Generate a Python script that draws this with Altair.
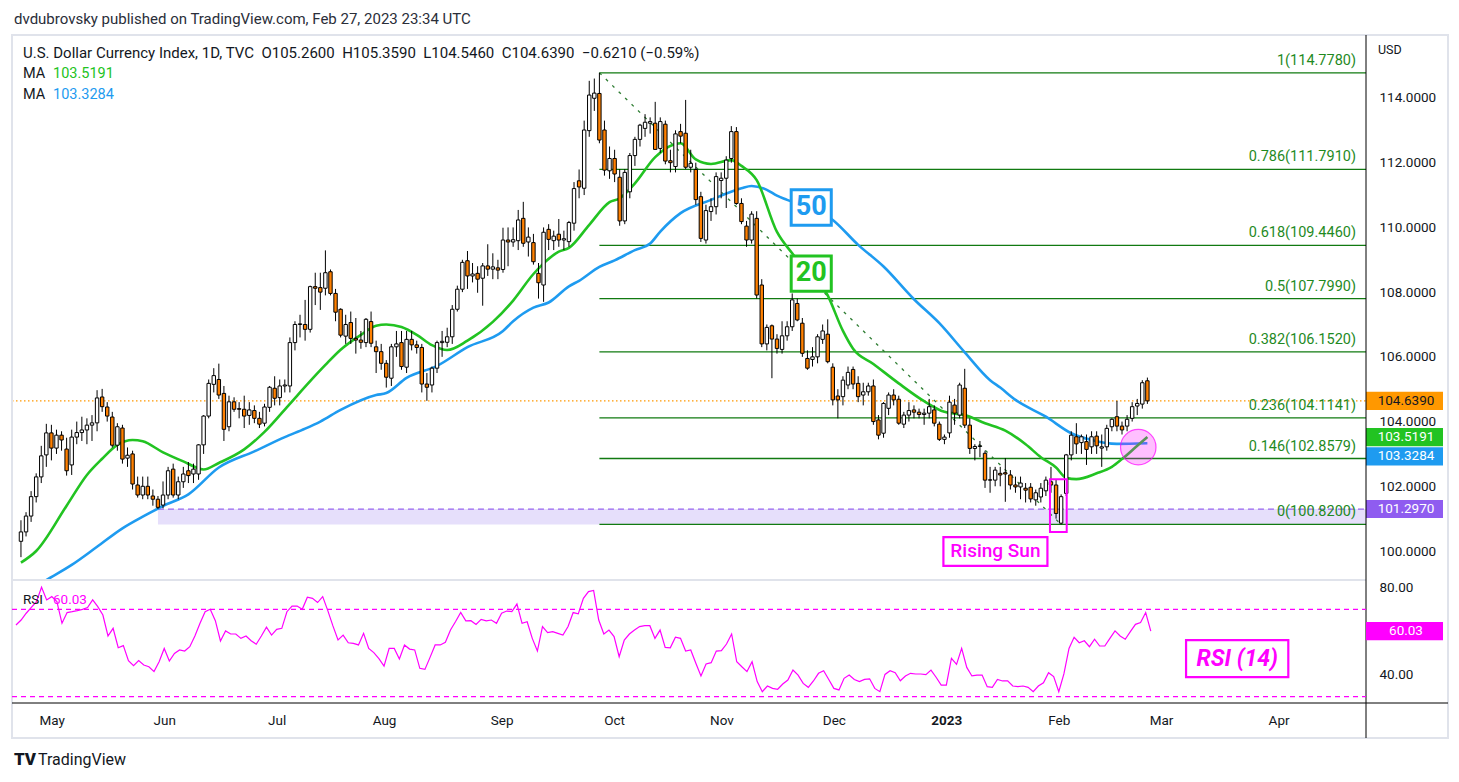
import json
import altair as alt
import pandas as pd

# ---------------- data ----------------
OPEN = [100.30, 100.59, 101.08, 101.68, 102.29, 102.97, 103.65, 103.18, 103.58, 103.15,
        102.66, 103.52, 103.66, 103.74, 103.89, 103.96, 104.76, 104.45, 104.14, 103.27,
        103.80, 102.87, 103.00, 102.04, 101.73, 102.00, 101.70, 101.60, 101.42, 101.73,
        102.53, 101.73, 102.14, 102.48, 102.38, 102.38, 103.28, 104.17, 105.15, 105.30,
        104.87, 103.84, 104.61, 104.40, 104.38, 104.19, 104.34, 104.10, 103.95, 104.44,
        105.03, 104.74, 105.10, 105.10, 106.44, 107.00, 107.00, 106.85, 108.17, 108.14,
        108.12, 108.63, 107.96, 107.47, 106.64, 107.06, 106.57, 106.52, 106.44, 107.09,
        106.31, 106.16, 105.80, 105.34, 106.31, 106.44, 105.68, 106.54, 106.37, 106.29,
        105.16, 105.13, 105.65, 106.44, 106.45, 106.62, 107.47, 108.09, 108.97, 108.50,
        108.58, 108.43, 108.81, 108.71, 108.75, 108.70, 109.61, 109.55, 109.59, 110.28,
        109.55, 109.53, 108.58, 108.22, 109.94, 109.59, 109.79, 109.61, 109.56, 110.13,
        111.44, 111.21, 112.99, 113.99, 114.14, 113.01, 111.75, 112.13, 111.55, 110.20,
        111.10, 112.22, 112.72, 113.06, 113.22, 113.22, 112.44, 113.19, 112.06, 111.88,
        112.96, 112.91, 111.86, 111.79, 110.95, 109.61, 110.49, 110.64, 111.45, 111.52,
        112.13, 112.96, 110.74, 110.04, 109.61, 110.28, 108.22, 106.40, 106.96, 106.55,
        106.23, 106.65, 106.93, 107.65, 107.04, 105.95, 105.92, 106.00, 106.54, 106.70,
        105.68, 104.79, 104.77, 105.13, 105.61, 105.18, 104.82, 104.92, 105.10, 104.05,
        103.64, 104.41, 104.82, 104.69, 103.92, 104.20, 104.36, 104.29, 104.22, 104.26,
        104.36, 103.92, 103.45, 103.65, 104.51, 104.20, 105.03, 103.89, 103.17, 103.23,
        103.02, 102.19, 102.19, 102.40, 102.42, 102.35, 102.04, 101.98, 101.94, 101.97,
        101.58, 101.67, 101.86, 102.14, 102.04, 100.86, 101.78, 102.97, 103.53, 103.35,
        103.38, 103.22, 103.55, 103.18, 103.22, 103.84, 104.15, 103.86, 103.86, 104.10,
        104.48, 104.54, 105.26]
HIGH = [100.95, 101.20, 101.85, 102.40, 103.25, 103.93, 103.90, 103.75, 103.70, 103.50,
        103.75, 104.00, 104.15, 104.10, 104.20, 104.97, 105.01, 104.60, 104.30, 103.95,
        103.90, 103.20, 103.10, 102.30, 102.30, 102.30, 101.90, 101.70, 102.15, 102.60,
        102.70, 102.30, 102.60, 102.75, 102.70, 103.30, 104.20, 105.30, 105.65, 105.79,
        105.10, 104.80, 104.75, 104.60, 104.80, 104.60, 104.50, 104.30, 104.55, 105.10,
        105.40, 105.30, 105.30, 106.60, 107.10, 107.30, 107.76, 108.20, 108.60, 108.60,
        109.29, 108.70, 108.10, 107.50, 107.30, 107.40, 107.20, 106.80, 107.20, 107.40,
        106.50, 106.40, 105.90, 106.40, 106.80, 106.80, 106.80, 106.80, 106.50, 106.40,
        105.50, 105.70, 106.50, 106.80, 106.90, 107.60, 108.20, 109.00, 109.27, 108.90,
        108.80, 108.90, 109.48, 109.20, 109.00, 109.99, 110.00, 110.00, 110.54, 110.79,
        110.00, 109.80, 108.90, 110.00, 110.10, 109.90, 110.26, 109.90, 110.20, 111.40,
        111.79, 113.30, 114.53, 114.60, 114.778, 113.30, 112.50, 112.40, 111.80, 111.80,
        112.30, 112.80, 113.20, 113.50, 113.40, 113.88, 113.40, 113.30, 112.40, 113.00,
        113.20, 113.94, 112.40, 112.00, 111.10, 110.70, 110.90, 111.70, 111.70, 112.20,
        113.13, 113.10, 110.90, 110.20, 110.50, 110.50, 108.40, 107.00, 107.00, 106.70,
        107.10, 107.10, 107.96, 107.80, 107.20, 106.20, 106.30, 106.70, 107.00, 107.16,
        105.80, 105.00, 105.40, 105.70, 105.70, 105.40, 105.20, 105.20, 105.30, 104.20,
        104.60, 104.90, 105.00, 104.80, 104.30, 104.60, 104.50, 104.40, 104.40, 104.70,
        104.50, 104.00, 103.60, 104.80, 104.70, 105.20, 105.63, 104.10, 103.30, 103.40,
        103.10, 102.60, 102.60, 102.60, 102.87, 102.50, 102.30, 102.30, 102.10, 102.10,
        101.90, 102.10, 102.30, 102.60, 102.20, 101.75, 103.00, 103.70, 103.95, 103.60,
        103.60, 103.70, 103.70, 103.60, 103.90, 104.10, 104.64, 104.00, 104.20, 104.60,
        104.70, 105.28, 105.359]
LOW = [99.81, 100.45, 100.90, 101.50, 102.10, 102.60, 102.80, 103.00, 103.10, 102.33,
       102.35, 103.30, 103.40, 103.30, 103.40, 103.70, 104.30, 104.00, 103.20, 103.10,
       102.70, 102.60, 101.90, 101.65, 101.60, 101.60, 101.40, 101.297, 101.32, 101.60,
       101.65, 101.60, 101.95, 102.10, 102.10, 102.20, 103.00, 104.10, 104.90, 104.70,
       103.40, 103.70, 104.30, 104.10, 103.80, 103.90, 103.95, 103.80, 103.85, 104.30,
       104.50, 104.50, 104.90, 104.90, 106.20, 106.60, 106.50, 106.75, 107.60, 107.45,
       107.90, 107.90, 107.10, 106.60, 106.40, 106.40, 106.10, 106.25, 106.30, 106.30,
       105.50, 105.60, 105.05, 105.10, 106.00, 105.60, 105.50, 106.20, 106.10, 104.90,
       104.64, 104.90, 105.50, 106.00, 106.30, 106.40, 107.40, 108.00, 108.10, 108.30,
       107.98, 107.58, 108.50, 108.40, 108.40, 108.60, 108.80, 109.40, 109.30, 109.40,
       109.10, 108.85, 107.80, 107.70, 109.30, 109.30, 109.40, 109.30, 109.40, 109.90,
       110.90, 111.00, 112.80, 113.60, 112.60, 111.60, 111.50, 111.40, 110.05, 110.10,
       110.90, 111.90, 112.50, 112.80, 112.90, 112.40, 112.30, 111.95, 111.70, 111.70,
       112.60, 111.80, 111.70, 110.70, 109.55, 109.50, 110.20, 110.40, 110.90, 110.60,
       112.00, 110.70, 110.10, 109.40, 109.50, 107.80, 106.30, 106.20, 105.34, 106.10,
       106.10, 106.50, 106.80, 107.10, 106.00, 105.60, 105.70, 105.80, 106.40, 105.80,
       104.50, 104.10, 104.50, 105.00, 105.00, 104.60, 104.50, 104.80, 103.90, 103.45,
       103.50, 104.20, 104.50, 103.90, 103.80, 104.00, 104.10, 104.10, 103.90, 104.10,
       103.85, 103.40, 103.30, 103.50, 103.90, 104.10, 103.80, 103.00, 102.80, 102.90,
       101.95, 101.80, 102.00, 102.00, 101.52, 101.90, 101.80, 101.60, 101.50, 101.50,
       101.40, 101.50, 101.70, 101.80, 101.00, 100.82, 101.70, 102.80, 103.00, 103.00,
       102.66, 103.00, 103.00, 102.60, 103.10, 103.70, 103.70, 103.60, 103.70, 104.00,
       104.20, 104.40, 104.546]
CLOSE = [100.59, 101.08, 101.68, 102.29, 102.94, 103.65, 103.18, 103.58, 103.43, 102.48,
         103.52, 103.66, 103.74, 103.89, 103.96, 104.73, 104.46, 104.17, 103.27, 103.84,
         102.84, 102.96, 102.07, 101.73, 102.00, 101.73, 101.60, 101.35, 101.73, 102.48,
         101.73, 102.14, 102.38, 102.33, 102.53, 103.28, 104.17, 105.18, 105.42, 104.82,
         103.76, 104.61, 104.38, 104.38, 104.17, 104.36, 104.10, 103.92, 104.45, 105.06,
         104.72, 105.10, 105.13, 106.44, 107.00, 107.02, 106.85, 108.17, 108.12, 108.00,
         108.60, 107.96, 107.38, 106.67, 107.00, 106.57, 106.52, 106.45, 107.16, 106.42,
         106.16, 105.80, 105.37, 106.31, 106.40, 105.70, 106.54, 106.37, 106.29, 105.16,
         105.06, 105.65, 106.44, 106.48, 106.62, 107.47, 108.09, 108.92, 108.50, 108.56,
         108.40, 108.81, 108.71, 108.78, 108.68, 109.61, 109.55, 109.62, 110.23, 109.51,
         109.70, 108.94, 108.29, 109.85, 109.63, 109.73, 109.61, 109.65, 110.15, 111.20,
         111.25, 113.01, 114.09, 114.15, 112.70, 111.77, 112.13, 111.65, 110.20, 111.70,
         112.22, 112.72, 113.16, 113.25, 113.27, 112.41, 113.27, 112.05, 112.00, 112.89,
         112.82, 111.86, 111.98, 110.86, 109.66, 110.52, 110.64, 111.57, 111.52, 112.08,
         112.96, 110.74, 110.18, 109.61, 110.41, 107.91, 106.40, 106.91, 106.55, 106.26,
         106.65, 106.93, 107.76, 107.14, 106.11, 105.65, 106.00, 106.62, 106.80, 105.85,
         104.67, 104.67, 105.28, 105.52, 105.16, 104.77, 104.92, 105.10, 104.00, 103.58,
         104.56, 104.82, 104.67, 103.95, 104.20, 104.34, 104.29, 104.22, 104.26, 104.46,
         103.95, 103.45, 103.52, 104.60, 104.26, 105.13, 103.89, 103.17, 103.23, 103.25,
         102.19, 102.20, 102.50, 102.35, 102.38, 102.04, 101.98, 102.10, 101.88, 101.61,
         101.80, 101.94, 102.19, 102.04, 101.16, 101.68, 102.97, 103.58, 103.31, 103.53,
         103.14, 103.53, 103.25, 103.22, 103.79, 104.07, 103.86, 103.74, 104.07, 104.46,
         104.56, 105.20, 104.639]
RSI = [62.8, 65.1, 68.2, 70.9, 73.5, 80.1, 74.3, 75.8, 73.5, 63.6,
       68.5, 68.9, 69.4, 70.0, 70.8, 74.3, 71.2, 67.4, 57.8, 61.3,
       52.4, 53.4, 46.5, 44.2, 46.5, 44.5, 43.7, 41.5, 46.0, 52.1,
       46.3, 49.8, 51.4, 50.9, 52.9, 57.8, 63.6, 68.9, 70.0, 64.8,
       55.5, 60.1, 58.7, 58.7, 56.7, 57.8, 55.6, 54.0, 57.8, 61.8,
       58.2, 60.8, 61.3, 68.9, 71.5, 71.5, 70.0, 75.5, 75.0, 73.1,
       75.8, 69.4, 62.4, 56.0, 58.2, 54.7, 54.4, 53.7, 59.0, 52.1,
       50.2, 47.4, 44.0, 52.1, 52.1, 47.3, 53.7, 51.8, 51.4, 43.0,
       42.5, 48.0, 53.7, 53.7, 54.9, 60.5, 64.4, 68.6, 64.7, 64.8,
       63.1, 65.4, 64.7, 65.1, 63.6, 68.2, 69.2, 68.9, 72.4, 63.6,
       64.3, 56.7, 50.9, 62.1, 59.3, 59.8, 59.0, 58.2, 62.1, 68.5,
       67.9, 75.0, 78.1, 78.6, 65.1, 58.7, 60.5, 57.5, 48.3, 55.9,
       58.7, 60.5, 62.1, 62.5, 62.5, 56.7, 60.5, 52.6, 52.4, 57.2,
       56.7, 50.9, 51.4, 45.3, 39.5, 45.0, 45.6, 50.9, 51.1, 54.1,
       58.7, 46.0, 43.7, 41.5, 46.0, 36.9, 32.3, 34.9, 33.8, 33.4,
       35.8, 37.6, 42.2, 39.9, 36.1, 34.3, 37.2, 40.7, 41.9, 37.9,
       33.8, 33.1, 38.4, 39.9, 37.9, 36.9, 37.9, 38.2, 33.8, 32.3,
       40.2, 41.9, 41.0, 37.3, 39.5, 40.7, 40.4, 40.4, 40.1, 42.2,
       38.9, 35.3, 35.3, 47.6, 44.8, 52.1, 43.4, 39.5, 39.9, 39.9,
       34.6, 34.3, 37.9, 37.2, 37.3, 34.9, 34.6, 34.9, 34.3, 32.3,
       34.9, 36.4, 41.0, 39.2, 32.3, 40.4, 52.1, 57.2, 54.7, 55.6,
       52.9, 56.3, 53.2, 53.2, 56.7, 60.1, 57.8, 56.3, 59.8, 63.1,
       63.9, 68.5, 60.03]

MA20_I = [0, 3, 9, 13, 16, 19, 22, 24, 28, 32, 36, 39, 44, 48, 53, 57, 60, 63, 67, 70,
          72, 75, 78, 81, 84, 88, 93, 97, 101, 106, 108, 112, 116, 118, 121, 125, 130, 133,
          136, 140, 142, 145, 149, 152, 159, 162, 164, 168, 173, 178, 182, 186, 190, 194,
          198, 201, 204, 206, 208, 212, 215, 217, 220, 222]
MA20_V = [99.64, 100.00, 101.40, 102.35, 102.85, 103.28, 103.43, 103.39, 103.05, 102.77,
          102.52, 102.72, 103.14, 103.68, 104.55, 105.25, 105.75, 106.22, 106.68, 106.96,
          107.00, 106.92, 106.68, 106.36, 106.21, 106.50, 107.08, 107.74, 108.56, 109.25,
          109.37, 110.08, 110.78, 110.90, 111.36, 112.17, 112.60, 112.10, 111.96, 112.08,
          111.90, 111.46, 109.86, 109.20, 107.90, 106.80, 106.25, 105.78, 105.18, 104.63,
          104.30, 104.20, 103.95, 103.72, 103.30, 102.90, 102.58, 102.26, 102.22, 102.40,
          102.60, 102.84, 103.25, 103.52]
MA50_I = [0, 5, 10, 15, 20, 24, 28, 33, 39, 46, 52, 56, 59, 63, 70, 72, 76, 82, 88, 95,
          97, 101, 104, 108, 110, 114, 117, 121, 124, 126, 130, 136, 142, 144, 147, 149,
          151, 160, 165, 170, 176, 181, 186, 191, 193, 196, 202, 207, 211, 216, 222]
MA50_V = [98.60, 99.10, 99.57, 100.13, 100.70, 101.06, 101.39, 101.75, 102.58, 103.08,
          103.52, 103.78, 104.00, 104.36, 104.82, 104.88, 105.35, 105.72, 106.30, 106.80,
          107.10, 107.52, 107.68, 108.18, 108.35, 108.78, 108.98, 109.30, 109.50, 109.87,
          110.44, 110.85, 111.21, 111.28, 111.16, 110.98, 110.85, 110.23, 109.46, 108.79,
          107.78, 107.04, 106.14, 105.28, 105.05, 104.67, 104.15, 103.64, 103.43, 103.31,
          103.33]
MA20_LAST = 103.5191
MA50_LAST = 103.3284

FIB_RATIO = ["1", "0.786", "0.618", "0.5", "0.382", "0.236", "0.146", "0"]
FIB_LEVEL = [114.778, 111.791, 109.446, 107.799, 106.152, 104.1141, 102.8579, 100.82]
FIB_START_I = 114
TREND_I = [114, 205]
ZONE_START_I = 27
ZONE_HIGH = 101.297
ZONE_LOW = 100.82

MONTH_I = [7, 29, 51, 72, 95, 117, 138, 160, 182, 204, 224, 247]
MONTH_LABEL = ["May", "Jun", "Jul", "Aug", "Sep", "Oct", "Nov", "Dec", "2023", "Feb", "Mar", "Apr"]
PRICE_TICKS = [100, 102, 104, 106, 108, 110, 112, 114]
RSI_TICKS = [40, 80]
RSI_LEVELS = [70, 30]

HEADER = "dvdubrovsky published on TradingView.com, Feb 27, 2023 23:34 UTC"
SYMBOL = ["U.S. Dollar Currency Index, 1D, TVC", "O105.2600", "H105.3590", "L104.5460",
          "C104.6390", "\u22120.6210 (\u22120.59%)"]

# annotation labels (placed in data coordinates: bar index / price)
ANN_LABEL = ["50", "20", "Rising Sun"]
ANN_I = [155.75, 155.75, 192.05]
ANN_V = [110.62, 108.58, 99.985]
ANN_BOX_I0 = [151.8, 151.8, 181.8]
ANN_BOX_I1 = [159.7, 159.7, 202.3]
ANN_BOX_V0 = [110.07, 108.03, 99.54]
ANN_BOX_V1 = [111.16, 109.12, 100.43]
CANDLE_BOX = [202.8, 206.1, 100.59, 102.22]
CIRCLE_AT = [220.2, 103.21]
RSI_LABEL = "RSI (14)"
RSI_LABEL_AT = [238.9, 47.45]
RSI_BOX = [228.9, 248.9, 39.0, 55.9]

# ---------------- styling ----------------
FONT = "Roboto"
TXT = "#131722"
GREEN = "#22c322"
BLUE = "#1e9bf0"
MAG = "#ff00ff"
ORANGE_BODY = "#ff8000"
FIBC = "#117a11"
W, HP, HR = 1354, 544, 123
NB = " \u00a0"  # double space that survives SVG whitespace collapsing

xs = alt.Scale(domain=[-0.78, 264.1], nice=False, zero=False)
ys = alt.Scale(domain=[99.104, 115.915], nice=False, zero=False)
rs = alt.Scale(domain=[27.12, 83.41], nice=False, zero=False)

yax = alt.Axis(orient="right", values=PRICE_TICKS, format=".4f", ticks=False, domain=False,
               grid=False, labelPadding=13, labelFontSize=13.5, labelFont=FONT,
               labelColor=TXT, title=None, labelOverlap=False)
rax = alt.Axis(orient="right", values=RSI_TICKS, format=".2f", ticks=False, domain=False,
               grid=False, labelPadding=13, labelFontSize=13.5, labelFont=FONT,
               labelColor=TXT, title=None, labelOverlap=False)
label_expr = "%s[indexof(%s, datum.value)]" % (json.dumps(MONTH_LABEL), json.dumps(MONTH_I))
bold_i = MONTH_I[MONTH_LABEL.index("2023")]
xax = alt.Axis(values=MONTH_I, labelExpr=label_expr, ticks=False, domain=False, grid=False,
               labelPadding=10, labelFontSize=13.5, labelFont=FONT, labelColor=TXT, title=None,
               labelOverlap=False, labelFlush=False, labelBound=False,
               labelFontWeight={"condition": {"test": "datum.value == %d" % bold_i, "value": "bold"},
                                "value": "normal"})

ONE = pd.DataFrame({"k": [0]})


def X(f="i"):
    return alt.X(f"{f}:Q", scale=xs, axis=None)


def Y(f):
    return alt.Y(f"{f}:Q", scale=ys, axis=yax)


def R(f):
    return alt.Y(f"{f}:Q", scale=rs, axis=rax)


def px_text(txt, x, y, size=14, color=TXT, align="left", weight="normal", style="normal"):
    return alt.Chart(ONE).mark_text(text=txt, align=align, baseline="middle", fontSize=size,
                                    color=color, font=FONT, fontWeight=weight,
                                    fontStyle=style).encode(x=alt.value(x), y=alt.value(y))


def px_rule(x, x2, y, y2, color, width=1.0):
    return alt.Chart(ONE).mark_rule(color=color, strokeWidth=width).encode(
        x=alt.value(x), x2=alt.value(x2), y=alt.value(y), y2=alt.value(y2))


BADGE_PATH = "M0,-0.236H2V0.236H0Z"


def badge(value, fmt, color, tcolor, yenc, shift=0):
    d = pd.DataFrame({"v": [value], "t": [format(value, fmt)]})
    box = alt.Chart(d).mark_point(shape=BADGE_PATH, size=77 * 77, filled=True, color=color,
                                  opacity=1, yOffset=shift).encode(x=alt.value(W), y=yenc("v"))
    txt = alt.Chart(d).mark_text(color=tcolor, fontSize=13.5, font=FONT, align="center",
                                 baseline="middle", yOffset=shift).encode(
        x=alt.value(W + 40), y=yenc("v"), text="t:N")
    return [box, txt]


df = pd.DataFrame({"i": list(range(len(CLOSE))), "open": OPEN, "high": HIGH,
                   "low": LOW, "close": CLOSE, "rsi": RSI})

# ---------------- price pane ----------------
zone_df = pd.DataFrame({"i": [ZONE_START_I], "lo": [ZONE_LOW], "hi": [ZONE_HIGH]})
zone = alt.Chart(zone_df).mark_rect(color="#e6dffb").encode(
    x=X(), x2=alt.value(W), y=Y("lo"), y2="hi:Q")
zone_line = alt.Chart(zone_df).mark_rule(color="#9865f0", strokeDash=[6, 4], strokeWidth=1.2).encode(
    x=X(), x2=alt.value(W), y=Y("hi"))

last_df = pd.DataFrame({"v": [CLOSE[-1]]})
last_line = alt.Chart(last_df).mark_rule(color="#ff9800", strokeDash=[1.5, 2.5], strokeWidth=1.2).encode(
    x=alt.value(0), x2=alt.value(W), y=Y("v"))

fib_df = pd.DataFrame({"i": [FIB_START_I] * len(FIB_LEVEL), "v": FIB_LEVEL,
                       "lab": [f"{r}({v:.4f})" for r, v in zip(FIB_RATIO, FIB_LEVEL)]})
fib_rules = alt.Chart(fib_df).mark_rule(color=FIBC, strokeWidth=1.3).encode(
    x=X(), x2=alt.value(W), y=Y("v"))
fib_text = alt.Chart(fib_df).mark_text(align="right", baseline="middle", dy=-12, fontSize=14.5,
                                       font=FONT, color="#1f8a1f").encode(
    x=alt.value(W - 10), y=Y("v"), text="lab:N")

trend_df = pd.DataFrame({"i": TREND_I, "v": [FIB_LEVEL[0], FIB_LEVEL[-1]]})
trend = alt.Chart(trend_df).mark_line(color="#2e7d32", strokeDash=[3, 6], strokeWidth=1.3).encode(
    x=X(), y=Y("v"))

ma20 = alt.Chart(pd.DataFrame({"i": MA20_I, "v": MA20_V})).mark_line(
    color=GREEN, strokeWidth=2.6, interpolate="monotone", clip=True).encode(x=X(), y=Y("v"))
ma50 = alt.Chart(pd.DataFrame({"i": MA50_I, "v": MA50_V})).mark_line(
    color=BLUE, strokeWidth=2.6, interpolate="monotone", clip=True).encode(x=X(), y=Y("v"))

wicks = alt.Chart(df).mark_rule(color="black", strokeWidth=1).encode(x=X(), y=Y("low"), y2="high:Q")
bodies = alt.Chart(df).mark_bar(size=3.4, stroke="black", strokeWidth=1).encode(
    x=X(), y=Y("open"), y2="close:Q",
    fill=alt.when("datum.close >= datum.open").then(alt.value("white")).otherwise(alt.value(ORANGE_BODY)))

circle = alt.Chart(pd.DataFrame({"i": [CIRCLE_AT[0]], "v": [CIRCLE_AT[1]]})).mark_point(
    shape="circle", size=1257, filled=True, fill=MAG, fillOpacity=0.25, stroke=MAG,
    strokeWidth=1.2, strokeOpacity=0.7).encode(x=X(), y=Y("v"))

cbox = alt.Chart(pd.DataFrame({"i0": [CANDLE_BOX[0]], "i1": [CANDLE_BOX[1]],
                               "v0": [CANDLE_BOX[2]], "v1": [CANDLE_BOX[3]]})).mark_rect(
    fill="white", fillOpacity=0, stroke=MAG, strokeWidth=2).encode(
    x=X("i0"), x2="i1:Q", y=Y("v0"), y2="v1:Q")

ann_layers = []
ann_style = [dict(color=BLUE, size=27, weight="bold", sw=3),
             dict(color=GREEN, size=27, weight="bold", sw=3),
             dict(color=MAG, size=19, weight=500, sw=2.2)]
for k, lab in enumerate(ANN_LABEL):
    st = ann_style[k]
    bd = pd.DataFrame({"i0": [ANN_BOX_I0[k]], "i1": [ANN_BOX_I1[k]],
                       "v0": [ANN_BOX_V0[k]], "v1": [ANN_BOX_V1[k]]})
    ann_layers.append(alt.Chart(bd).mark_rect(fill="white", stroke=st["color"], strokeWidth=st["sw"]).encode(
        x=X("i0"), x2="i1:Q", y=Y("v0"), y2="v1:Q"))
    td = pd.DataFrame({"i": [ANN_I[k]], "v": [ANN_V[k]], "t": [lab]})
    ann_layers.append(alt.Chart(td).mark_text(color=st["color"], fontSize=st["size"],
                                              fontWeight=st["weight"], font=FONT, align="center",
                                              baseline="middle").encode(x=X(), y=Y("v"), text="t:N"))

header = [
    px_text(HEADER, 2, -17, size=15, color="#2a2e39"),
    px_text(NB.join(SYMBOL), 11, 17, size=15),
    px_text("MA", 11, 38, size=14.5),
    px_text(f"{MA20_LAST:.4f}", 41, 38, size=14.5, color=GREEN),
    px_text("MA", 11, 59, size=14.5),
    px_text(f"{MA50_LAST:.4f}", 41, 59, size=14.5, color=BLUE),
    px_text("USD", W + 12, 14, size=12.5),
]

frame = [
    alt.Chart(ONE).mark_rect(fill="white", fillOpacity=0, stroke="#e0e3eb", strokeWidth=2).encode(
        x=alt.value(0), x2=alt.value(1436), y=alt.value(-1), y2=alt.value(702)),
    px_rule(0, W, HP, HP, "#e0e3eb", 2),
    px_rule(W, W, -1, 702, "black", 1),
    px_rule(0, 1436, HP + HR, HP + HR, "black", 1),
    px_text("TV", 2, 724, size=17, weight=900, color="#131722"),
    px_text("TradingView", 26, 724, size=16, color="#131722"),
]

badges = []
badges += badge(CLOSE[-1], ".4f", "#ff9800", TXT, Y)
badges += badge(MA20_LAST, ".4f", GREEN, "white", Y)
badges += badge(MA50_LAST, ".4f", BLUE, "white", Y, shift=13)
badges += badge(ZONE_HIGH, ".4f", "#8f5cf0", "white", Y)

price = alt.layer(zone, zone_line, last_line, fib_rules, fib_text, trend, ma50, ma20, wicks, bodies,
                  circle, cbox, *ann_layers, *header, *badges, *frame).properties(width=W, height=HP)

# ---------------- RSI pane ----------------
rsi_line = alt.Chart(df).mark_line(color=MAG, strokeWidth=1.2).encode(
    x=alt.X("i:Q", scale=xs, axis=xax), y=R("rsi"))
bands = alt.Chart(pd.DataFrame({"v": RSI_LEVELS})).mark_rule(color=MAG, strokeDash=[5, 4], strokeWidth=1.2).encode(
    x=alt.value(0), x2=alt.value(W), y=R("v"))
rbox = alt.Chart(pd.DataFrame({"i0": [RSI_BOX[0]], "i1": [RSI_BOX[1]], "r0": [RSI_BOX[2]], "r1": [RSI_BOX[3]]})).mark_rect(
    fill="white", stroke=MAG, strokeWidth=2.2).encode(
    x=alt.X("i0:Q", scale=xs, axis=xax), x2="i1:Q", y=R("r0"), y2="r1:Q")
rtext = alt.Chart(pd.DataFrame({"i": [RSI_LABEL_AT[0]], "r": [RSI_LABEL_AT[1]], "t": [RSI_LABEL]})).mark_text(
    color=MAG, fontSize=23, fontWeight="bold", fontStyle="italic", font=FONT, align="center",
    baseline="middle").encode(x=alt.X("i:Q", scale=xs, axis=xax), y=R("r"), text="t:N")
rsi_head = [px_text("RSI", 11, 20, size=13.5), px_text(f"{RSI[-1]:.2f}", 41, 20, size=13.5, color=MAG)]
rbadge = badge(RSI[-1], ".2f", MAG, "white", R)

rsi = alt.layer(bands, rsi_line, rbox, rtext, *rsi_head, *rbadge).properties(width=W, height=HR)

chart = alt.vconcat(price, rsi, spacing=0, bounds="flush").configure_view(stroke=None).properties(
    padding={"left": 3, "top": 4, "right": 2, "bottom": 0}, background="white")

chart.save("out.html", embed_options={"renderer": "svg", "actions": False})
